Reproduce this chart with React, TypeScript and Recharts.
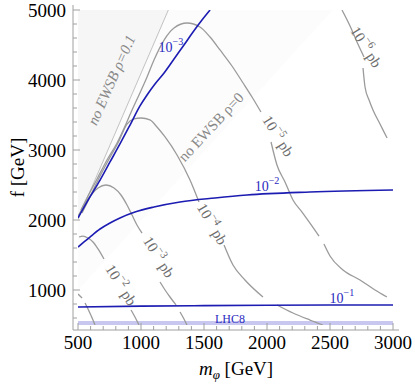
import React from 'react';
import { ComposedChart, Line, Area, XAxis, YAxis, ReferenceDot } from 'recharts';

const SERIF = "'Liberation Serif', 'Times New Roman', Times, serif";
const GRAY = '#9b9b9b';
const BLUE = '#1c1cb2';
const FRAME = '#a0a0a0';

const xTicks = [500, 600, 700, 800, 900, 1000, 1100, 1200, 1300, 1400, 1500, 1600, 1700, 1800, 1900, 2000, 2100, 2200, 2300, 2400, 2500, 2600, 2700, 2800, 2900, 3000];
const yTicks = [600, 800, 1000, 1200, 1400, 1600, 1800, 2000, 2200, 2400, 2600, 2800, 3000, 3200, 3400, 3600, 3800, 4000, 4200, 4400, 4600, 4800, 5000];
const majorX = [500, 1000, 1500, 2000, 2500, 3000];
const majorY = [1000, 2000, 3000, 4000, 5000];

// shaded regions: [m_phi, f_low, f_high]
const noEwsbRho0 = [[500, 1000, 5000], [2520, 5000, 5000]];
const noEwsbRho01 = [[500, 2010, 5000], [1217, 5000, 5000]];
const rho01Edge = [[500, 2010], [1217, 5000]];
const lhc8Band = [[500, 500, 557], [3000, 500, 557]];

// blue BR contours
const br1e3 = [[500, 2030], [595, 2329], [675, 2571], [754, 2829], [833, 3086], [913, 3357], [992, 3629], [1048, 3786], [1111, 3943], [1183, 4100], [1262, 4300], [1341, 4500], [1413, 4686], [1484, 4857], [1548, 5000]];
const br1e2 = [[500, 1614], [548, 1686], [595, 1757], [675, 1871], [754, 1957], [833, 2029], [952, 2114], [1103, 2186], [1310, 2257], [1587, 2314], [1841, 2357], [2341, 2400], [3000, 2429]];
const br1e1 = [[500, 757], [1000, 770], [1500, 777], [2000, 782], [2500, 785], [3000, 786]];

// gray cross-section contours (segments, gaps where labels sit)
const xs1e1 = [
  [[500, 943], [532, 886]],
  [[556, 814], [587, 700], [619, 571], [635, 500]],
];
const xs1e2 = [
  [[508, 1757], [540, 1771], [579, 1743], [619, 1686], [659, 1586], [706, 1443]],
  [[921, 714], [952, 614], [984, 500]],
];
const xs1e3 = [
  [[503, 2060], [548, 2214], [603, 2357], [659, 2457], [722, 2500], [786, 2457], [841, 2357], [889, 2214], [929, 2071], [968, 1929], [1008, 1814]],
  [[1151, 1114], [1191, 1000], [1230, 900], [1278, 786]],
  [[1310, 686], [1341, 586], [1365, 500]],
];
const xs1e4 = [
  [[532, 2100], [587, 2300], [659, 2571], [738, 2843], [817, 3100], [889, 3371], [944, 3443], [1000, 3457], [1071, 3429], [1127, 3329], [1191, 3186], [1286, 2929], [1389, 2571], [1460, 2257]],
  [[1659, 1643], [1730, 1357], [1825, 1143], [1968, 900]],
  [[2079, 786], [2206, 671], [2341, 571], [2444, 500]],
];
const xs1e5 = [
  [[524, 2143], [571, 2314], [651, 2586], [730, 2857], [810, 3100], [881, 3371], [929, 3571], [984, 3786], [1048, 4043], [1103, 4286], [1183, 4571], [1262, 4743], [1365, 4814], [1468, 4757], [1548, 4614], [1627, 4429], [1722, 4200], [1810, 3957], [1881, 3757], [1952, 3543]],
  [[2032, 3114], [2079, 2786], [2143, 2543], [2206, 2286], [2278, 2114], [2341, 1957], [2413, 1771]],
  [[2452, 1657], [2500, 1486], [2603, 1286], [2738, 1143], [2857, 1000], [2952, 900]],
];
const xs1e6 = [
  [[2595, 5000], [2659, 4771], [2714, 4543], [2770, 4329]],
  [[2762, 4171], [2778, 3900], [2810, 3714], [2841, 3571], [2897, 3371], [2953, 3171]],
];

// labels: [m_phi, f, angle, exponent]
const xsLabels = [
  [841, 1071, 58, '2'],
  [1140, 1471, 58, '3'],
  [1564, 1943, 60, '4'],
  [2087, 3200, 58, '5'],
  [2786, 4471, 58, '6'],
];
const brLabels = [
  [1238, 4471, '3'],
  [2000, 2486, '2'],
  [2595, 886, '1'],
];
const regionLabels = [
  [766, 4000, -66, 'no EWSB ρ=0.1', true],
  [1556, 3329, -47, 'no EWSB ρ=0', false],
];
const lhc8Label = [1706, 586, 'LHC8'];

const toPts = (arr: number[][]) => arr.map(([m, f]) => ({ m, f }));
const toBand = (arr: number[][]) => arr.map(([m, lo, hi]) => ({ m, r: [lo, hi] }));

const txtStyle = { fontFamily: SERIF };

const BottomTick = (props: any) => {
  const { x, y, payload } = props;
  const major = majorX.includes(payload.value);
  return (
    <g>
      <line x1={x} x2={x} y1={y} y2={y - (major ? 7 : 4)} stroke={FRAME} strokeWidth={1} />
      {major && (
        <text x={x} y={y + 19} textAnchor="middle" style={txtStyle} fontSize={19} fill="#000">
          {payload.value}
        </text>
      )}
    </g>
  );
};
const TopTick = (props: any) => {
  const { x, y, payload } = props;
  const major = majorX.includes(payload.value);
  return <line x1={x} x2={x} y1={y} y2={y + (major ? 7 : 4)} stroke={FRAME} strokeWidth={1} />;
};
const LeftTick = (props: any) => {
  const { x, y, payload } = props;
  const major = majorY.includes(payload.value);
  return (
    <g>
      <line x1={x} x2={x + (major ? 7 : 4)} y1={y} y2={y} stroke={FRAME} strokeWidth={1} />
      {major && (
        <text x={x - 7} y={y} textAnchor="end" dominantBaseline="central" style={txtStyle} fontSize={19} fill="#000">
          {payload.value}
        </text>
      )}
    </g>
  );
};
const RightTick = (props: any) => {
  const { x, y, payload } = props;
  const major = majorY.includes(payload.value);
  return <line x1={x} x2={x - (major ? 7 : 4)} y1={y} y2={y} stroke={FRAME} strokeWidth={1} />;
};

const RotText = ({ cx, cy, angle, color, size, italic, children }: any) => (
  <text
    x={cx}
    y={cy}
    transform={`rotate(${angle} ${cx} ${cy})`}
    textAnchor="middle"
    dominantBaseline="central"
    fill={color}
    fontSize={size}
    style={{ fontFamily: SERIF, fontStyle: italic ? 'italic' : 'normal' }}
  >
    {children}
  </text>
);

const powParts = (exp: string, unit: string, size: number) => [
  <tspan key="b">10</tspan>,
  <tspan key="e" dy={-size * 0.42} fontSize={size * 0.72}>{'−' + exp}</tspan>,
  <tspan key="u" dy={size * 0.42}>{unit}</tspan>,
];

const lineProps = { type: 'monotone' as const, dataKey: 'f', dot: false, activeDot: false, isAnimationActive: false };

export default function App() {
  return (
    <div style={{ position: 'absolute', left: 0, top: 0, width: 415, height: 388, background: '#fff', fontFamily: SERIF }}>
      <ComposedChart width={415} height={388} margin={{ top: 5, right: 16, bottom: 8, left: 8 }} style={{ fontFamily: SERIF }}>
        <XAxis
          dataKey="m"
          type="number"
          domain={[500, 3000]}
          ticks={xTicks}
          interval={0}
          padding={{ left: 5, right: 6 }}
          height={50}
          tickSize={0}
          tickMargin={0}
          tickLine={false}
          axisLine={{ stroke: FRAME }}
          tick={(p: any) => <BottomTick {...p} />}
          allowDataOverflow
          label={{
            content: ({ viewBox }: any) => (
              <text x={viewBox.x + viewBox.width / 2} y={viewBox.y + 45} textAnchor="middle" style={txtStyle} fontSize={19} fill="#000">
                <tspan fontStyle="italic">m</tspan>
                <tspan fontStyle="italic" fontSize={13} dy={4}>φ</tspan>
                <tspan dy={-4}> [GeV]</tspan>
              </text>
            ),
          }}
        />
        <XAxis
          xAxisId="top"
          orientation="top"
          dataKey="m"
          type="number"
          domain={[500, 3000]}
          ticks={xTicks}
          interval={0}
          padding={{ left: 5, right: 6 }}
          height={0}
          tickSize={0}
          tickMargin={0}
          tickLine={false}
          axisLine={{ stroke: FRAME }}
          tick={(p: any) => <TopTick {...p} />}
          allowDataOverflow
        />
        <YAxis
          type="number"
          domain={[500, 5000]}
          ticks={yTicks}
          interval={0}
          padding={{ top: 5, bottom: 5 }}
          width={65}
          tickSize={0}
          tickMargin={0}
          tickLine={false}
          axisLine={{ stroke: FRAME }}
          tick={(p: any) => <LeftTick {...p} />}
          allowDataOverflow
          label={{
            content: ({ viewBox }: any) => {
              const cx = viewBox.x + 9;
              const cy = viewBox.y + viewBox.height / 2;
              return (
                <text x={cx} y={cy} transform={`rotate(-90 ${cx} ${cy})`} textAnchor="middle" dominantBaseline="central" style={txtStyle} fontSize={19} fill="#000">
                  f [GeV]
                </text>
              );
            },
          }}
        />
        <YAxis
          yAxisId="right"
          orientation="right"
          type="number"
          domain={[500, 5000]}
          ticks={yTicks}
          interval={0}
          padding={{ top: 5, bottom: 5 }}
          width={0}
          tickSize={0}
          tickMargin={0}
          tickLine={false}
          axisLine={{ stroke: FRAME }}
          tick={(p: any) => <RightTick {...p} />}
          allowDataOverflow
        />

        <Area data={toBand(noEwsbRho0)} dataKey="r" type="linear" stroke="none" fill="#fcfcfc" fillOpacity={1} isAnimationActive={false} dot={false} activeDot={false} />
        <Area data={toBand(noEwsbRho01)} dataKey="r" type="linear" stroke="none" fill="#f6f6f6" fillOpacity={1} isAnimationActive={false} dot={false} activeDot={false} />
        <Area data={toBand(lhc8Band)} dataKey="r" type="linear" stroke="none" fill="#c7c7ef" fillOpacity={1} isAnimationActive={false} dot={false} activeDot={false} />

        <Line data={toPts(rho01Edge)} {...lineProps} type="linear" stroke="#b4b4b4" strokeWidth={0.8} />

        {[xs1e1, xs1e2, xs1e3, xs1e4, xs1e5, xs1e6].map((segs, i) =>
          segs.map((seg, j) => (
            <Line key={`xs${i}-${j}`} data={toPts(seg)} {...lineProps} stroke={GRAY} strokeWidth={1.3} />
          ))
        )}

        <Line data={toPts(br1e3)} {...lineProps} stroke={BLUE} strokeWidth={1.6} />
        <Line data={toPts(br1e2)} {...lineProps} stroke={BLUE} strokeWidth={1.6} />
        <Line data={toPts(br1e1)} {...lineProps} stroke={BLUE} strokeWidth={1.6} />

        {xsLabels.map(([m, f, a, e]: any, i) => (
          <ReferenceDot
            key={`xl${i}`}
            x={m}
            y={f}
            r={0}
            shape={(p: any) => (
              <RotText cx={p.cx} cy={p.cy} angle={a} color="#6e6e6e" size={15}>
                {powParts(e, ' pb', 15)}
              </RotText>
            )}
          />
        ))}
        {regionLabels.map(([m, f, a, t, it]: any, i) => (
          <ReferenceDot
            key={`rl${i}`}
            x={m}
            y={f}
            r={0}
            shape={(p: any) => (
              <RotText cx={p.cx} cy={p.cy} angle={a} color="#888888" size={15} italic={it}>
                {t}
              </RotText>
            )}
          />
        ))}
        {brLabels.map(([m, f, e]: any, i) => (
          <ReferenceDot
            key={`bl${i}`}
            x={m}
            y={f}
            r={0}
            shape={(p: any) => (
              <RotText cx={p.cx} cy={p.cy} angle={0} color="#2a2ac0" size={14}>
                {powParts(e, '', 14)}
              </RotText>
            )}
          />
        ))}
        <ReferenceDot
          x={lhc8Label[0] as number}
          y={lhc8Label[1] as number}
          r={0}
          shape={(p: any) => (
            <RotText cx={p.cx} cy={p.cy} angle={0} color="#2a2ac0" size={12}>
              {lhc8Label[2]}
            </RotText>
          )}
        />
      </ComposedChart>
    </div>
  );
}
